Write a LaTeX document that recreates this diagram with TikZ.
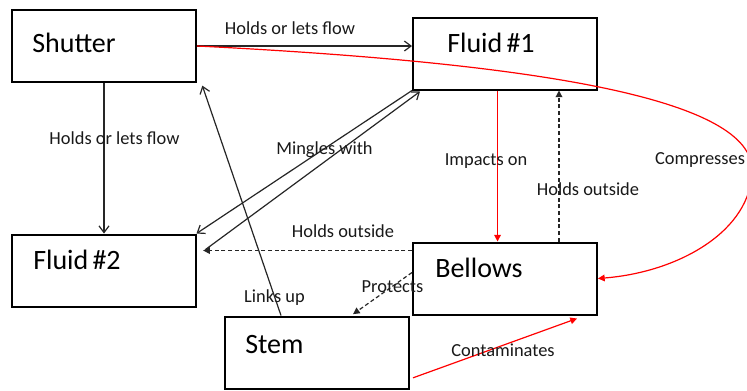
\documentclass[tikz,border=0pt]{standalone}
\usepackage{fontspec}
\setmainfont{Carlito}
\usetikzlibrary{arrows.meta}
\begin{document}
\begin{tikzpicture}[x=0.75pt,y=-0.75pt,
  box/.style={draw=black,line width=1.5pt,minimum width=138pt,minimum height=54pt,inner sep=0pt},
  boxtext/.style={anchor=base west,inner sep=0pt,font=\fontsize{21}{25}\selectfont},
  lbl/.style={inner sep=0pt,font=\fontsize{13.8}{16}\selectfont,text=black!90},
  link/.style={draw=black!85,line width=0.9pt},
  redlink/.style={draw=red,line width=0.9pt},
  opentip/.style={-{Straight Barb[length=5pt,width=7.5pt]}},
  filltip/.style={-{Triangle[length=5pt,width=5pt]}},
  dashline/.style={dash pattern=on 3pt off 2pt}]
\fill[white] (0,0) rectangle (747,390);
\clip (0,0) rectangle (747,390);

% boxes
\node[box] (shutter) at (104,46) {};
\node[box] (fluid1)  at (505,53.5) {};
\node[box] (fluid2)  at (103.5,270.5) {};
\node[box] (bellows) at (505,278.5) {};
\node[box] (stem)    at (317,352.5) {};

% box titles
\node[boxtext] (shuttertxt) at (32,52)  {Shutter};
\node[boxtext] (fluid1txt)  at (447,52) {Fluid\hspace{0.15em}\#1};
\node[boxtext] (fluid2txt)  at (33,269) {Fluid\hspace{0.15em}\#2};
\node[boxtext] (bellowstxt) at (435,277) {Bellows};
\node[boxtext] (stemtxt)    at (245,353) {Stem};

% helper points on the box borders
\path ([yshift=-6.75pt]bellows.north west) coordinate (hb);
\coordinate (bend) at (752,170);

% connectors
\draw[link,opentip] (shutter.east) -- (shutter.east -| fluid1.west);
\draw[link,opentip] (shutter.south) -- (shutter.south |- fluid2.north);
\draw[link,opentip] (fluid1.south west) -- (fluid2.north east);
\draw[link,opentip] ([shift={(6.75pt,-12pt)}]fluid2.north east) -- ([shift={(6pt,-0.75pt)}]fluid1.south west);
\draw[link,dashline,filltip,shorten >=5pt] (hb) -- (hb -| fluid2.east);
\draw[link,dashline,filltip] ([xshift=40.5pt]bellows.north) -- ([xshift=40.5pt]fluid1.south);
\draw[redlink,filltip] ([xshift=-5.6pt]fluid1.south) -- ([xshift=-5.6pt]bellows.north);
\draw[link,opentip] ([xshift=42.75pt]stem.north west) -- ([shift={(4pt,-2pt)}]shutter.south east);
\draw[link,dashline,filltip] ([yshift=4.5pt]bellows.west) -- ([shift={(-42.75pt,1pt)}]stem.north east);
\draw[redlink,filltip] ([shift={(2.25pt,-19pt)}]stem.east) -- ([shift={(-15.75pt,-2.25pt)}]bellows.south east);
\draw[redlink,filltip] (shutter.east) .. controls (546,63.5) and (752,100) .. (bend)
  .. controls (752,230) and (680,272) .. (bellows.east);

% connector labels
\node[lbl] (l1)  at (290,28.5)  {Holds or lets flow};
\node[lbl] (l2)  at (114.5,138) {Holds or lets flow};
\node[lbl] (l3)  at (324.5,150) {Mingles with};
\node[lbl] (l4)  at (343,231)   {Holds outside};
\node[lbl] (l5)  at (486,161)   {Impacts on};
\node[lbl] (l6)  at (588,189)   {Holds outside};
\node[lbl] (l7)  at (700,160)   {Compresses};
\node[lbl] (l8)  at (274.5,298) {Links up};
\node[lbl] (l9)  at (392.5,286.5) {Protects};
\node[lbl] (l10) at (503,350)   {Contaminates};
\end{tikzpicture}
\end{document}
